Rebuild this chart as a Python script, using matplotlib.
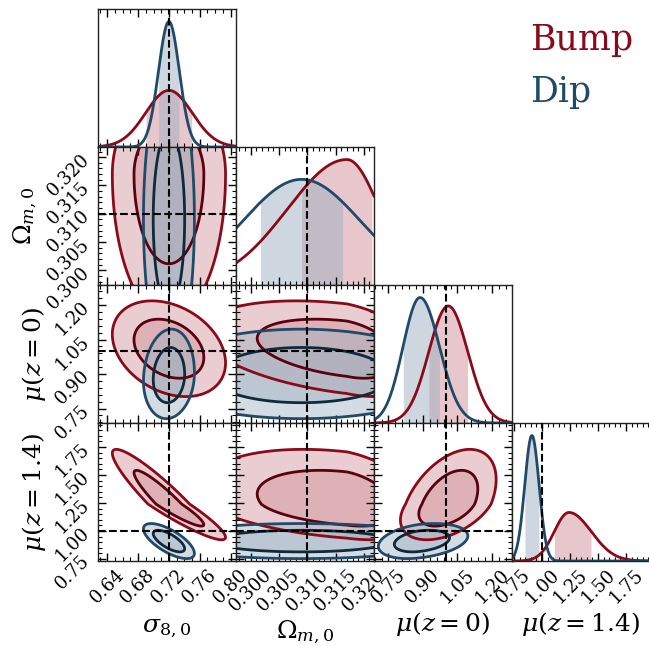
import numpy as np
import matplotlib
matplotlib.use('Agg')
import matplotlib.pyplot as plt
from matplotlib.ticker import FixedLocator, MultipleLocator, FormatStrFormatter

plt.rcParams['font.family'] = 'DejaVu Serif'
plt.rcParams['mathtext.fontset'] = 'dejavuserif'

# Параметры
names = [r'$\sigma_{8,0}$', r'$\Omega_{m,0}$', r'$\mu(z=0)$', r'$\mu(z=1.4)$']
truths = [0.72, 0.31, 1.0, 1.0]
ranges = [(0.628, 0.807), (0.2974, 0.3218), (0.687, 1.287), (0.732, 1.965)]
ticks = [[0.64, 0.68, 0.72, 0.76, 0.80],
         [0.300, 0.305, 0.310, 0.315, 0.320],
         [0.75, 0.90, 1.05, 1.20],
         [0.75, 1.00, 1.25, 1.50, 1.75]]
tick_fmt = ['%.2f', '%.3f', '%.2f', '%.2f']
minor_step = [0.01, 0.001, 0.03, 0.05]

# Оценки апостериорных распределений:
# мода, сигма слева / справа от моды, попарные корреляции
bump_mode = [0.72, 0.317, 1.01, 1.24]
bump_sig_lo = [0.03, 0.0105, 0.085, 0.13]
bump_sig_hi = [0.03, 0.0058, 0.085, 0.20]
bump_corr = {(1, 0): 0.0, (2, 0): -0.3, (3, 0): -0.93,
             (2, 1): -0.35, (3, 1): -0.3, (3, 2): 0.45}
dip_mode = [0.72, 0.309, 0.887, 0.91]
dip_sig_lo = [0.0135, 0.0104, 0.074, 0.064]
dip_sig_hi = [0.0135, 0.0104, 0.085, 0.064]
dip_corr = {(1, 0): 0.0, (2, 0): 0.1, (3, 0): -0.7,
            (2, 1): 0.0, (3, 1): 0.0, (3, 2): 0.3}

models = [
    dict(label='Bump', mode=bump_mode, lo=bump_sig_lo, hi=bump_sig_hi,
         corr=bump_corr, line='#8b0a1a', inner='#5a0010', fill='#d19199'),
    dict(label='Dip', mode=dip_mode, lo=dip_sig_lo, hi=dip_sig_hi,
         corr=dip_corr, line='#1f4a6a', inner='#0e2a3c', fill='#9fb1c1'),
]

W, H = 649, 646
x0, y0, size = 98, 9, 138
n = 4
# положения подписей осей (в пикселях картинки)
xlabel_y = [628, 632, 624, 624]
ylabel_x = [25, 25, 34, 34]


def scaled(v, m, k):
    # отклонение в единицах сигмы (разные сигмы слева и справа от моды)
    d = v - m['mode'][k]
    return np.where(d < 0, d / m['lo'][k], d / m['hi'][k])


fig = plt.figure(figsize=(W / 100, H / 100), dpi=100)

axes = {}
for i in range(n):
    for j in range(i + 1):
        ax = fig.add_axes([(x0 + size * j) / W, (H - (y0 + size * (i + 1))) / H,
                           size / W, size / H])
        axes[(i, j)] = ax


def style_axis(ax, i, j):
    ax.set_xlim(ranges[j])
    ax.xaxis.set_major_locator(FixedLocator(ticks[j]))
    ax.xaxis.set_minor_locator(MultipleLocator(minor_step[j]))
    ax.xaxis.set_major_formatter(FormatStrFormatter(tick_fmt[j]))
    ax.tick_params(which='both', direction='in', top=True, right=True,
                   labelsize=13)
    ax.tick_params(which='major', length=6, width=1)
    ax.tick_params(which='minor', length=3, width=0.8)
    if i != j:
        ax.set_ylim(ranges[i])
        ax.yaxis.set_major_locator(FixedLocator(ticks[i]))
        ax.yaxis.set_minor_locator(MultipleLocator(minor_step[i]))
        ax.yaxis.set_major_formatter(FormatStrFormatter(tick_fmt[i]))
    else:
        ax.tick_params(axis='y', which='both', left=False, right=False,
                       labelleft=False)
    if i == n - 1:
        ax.set_xlabel(names[j], fontsize=18, va='center')
        ax.xaxis.set_label_coords(0.5, -(xlabel_y[j] - (y0 + size * n)) / size)
        for lab in ax.get_xticklabels():
            lab.set_rotation(45)
    else:
        ax.tick_params(axis='x', labelbottom=False)
    if j == 0 and i > 0:
        ax.set_ylabel(names[i], fontsize=18, va='center')
        ax.yaxis.set_label_coords(-(x0 - ylabel_x[i]) / size, 0.5)
        for lab in ax.get_yticklabels():
            lab.set_rotation(45)
    elif i != j:
        ax.tick_params(axis='y', labelleft=False)
    for sp in ax.spines.values():
        sp.set_linewidth(1.0)
        sp.set_color('#222222')


# Диагональ: одномерные распределения
for k in range(n):
    ax = axes[(k, k)]
    lo, hi = ranges[k]
    xs = np.linspace(lo, hi, 600)
    ymax = 0
    for m in models:
        pdf = np.exp(-0.5 * scaled(xs, m, k) ** 2)
        pdf /= np.trapezoid(pdf, xs)
        # область 68% наибольшей плотности
        order = np.argsort(pdf)[::-1]
        cum = np.cumsum(pdf[order]) / pdf.sum()
        thr = pdf[order][np.searchsorted(cum, 0.68)]
        ax.fill_between(xs, 0, pdf, where=pdf >= thr, color=m['fill'],
                        alpha=0.5, lw=0)
        ax.plot(xs, pdf, color=m['line'], lw=2)
        ymax = max(ymax, pdf.max())
    ax.set_ylim(0, ymax * 1.1)
    ax.axvline(truths[k], color='k', ls='--', lw=1.5, zorder=5)
    style_axis(ax, k, k)

# Двумерные контуры 68% и 95%
lev68, lev95 = 2.279, 5.991
for i in range(n):
    for j in range(i):
        ax = axes[(i, j)]
        xl, xh = ranges[j]
        yl, yh = ranges[i]
        gx = np.linspace(xl - 0.3 * (xh - xl), xh + 0.3 * (xh - xl), 300)
        gy = np.linspace(yl - 0.3 * (yh - yl), yh + 0.3 * (yh - yl), 300)
        X, Y = np.meshgrid(gx, gy)
        for m in models:
            rho = m['corr'][(i, j)]
            dx = scaled(X, m, j)
            dy = scaled(Y, m, i)
            R2 = (dx ** 2 - 2 * rho * dx * dy + dy ** 2) / (1 - rho ** 2)
            ax.contourf(X, Y, R2, levels=[-1, lev95], colors=[m['fill']],
                        alpha=0.45)
            ax.contourf(X, Y, R2, levels=[-1, lev68], colors=[m['fill']],
                        alpha=0.45)
            ax.contour(X, Y, R2, levels=[lev95], colors=[m['line']],
                       linewidths=2)
            ax.contour(X, Y, R2, levels=[lev68], colors=[m['inner']],
                       linewidths=2)
        ax.axvline(truths[j], color='k', ls='--', lw=1.5, zorder=5)
        ax.axhline(truths[i], color='k', ls='--', lw=1.5, zorder=5)
        style_axis(ax, i, j)

fig.text(530 / W, 1 - 40 / H, models[0]['label'], color=models[0]['line'],
         fontsize=25, va='center', ha='left')
fig.text(530 / W, 1 - 92 / H, models[1]['label'], color=models[1]['line'],
         fontsize=25, va='center', ha='left')

fig.savefig('out.png', dpi=100)
